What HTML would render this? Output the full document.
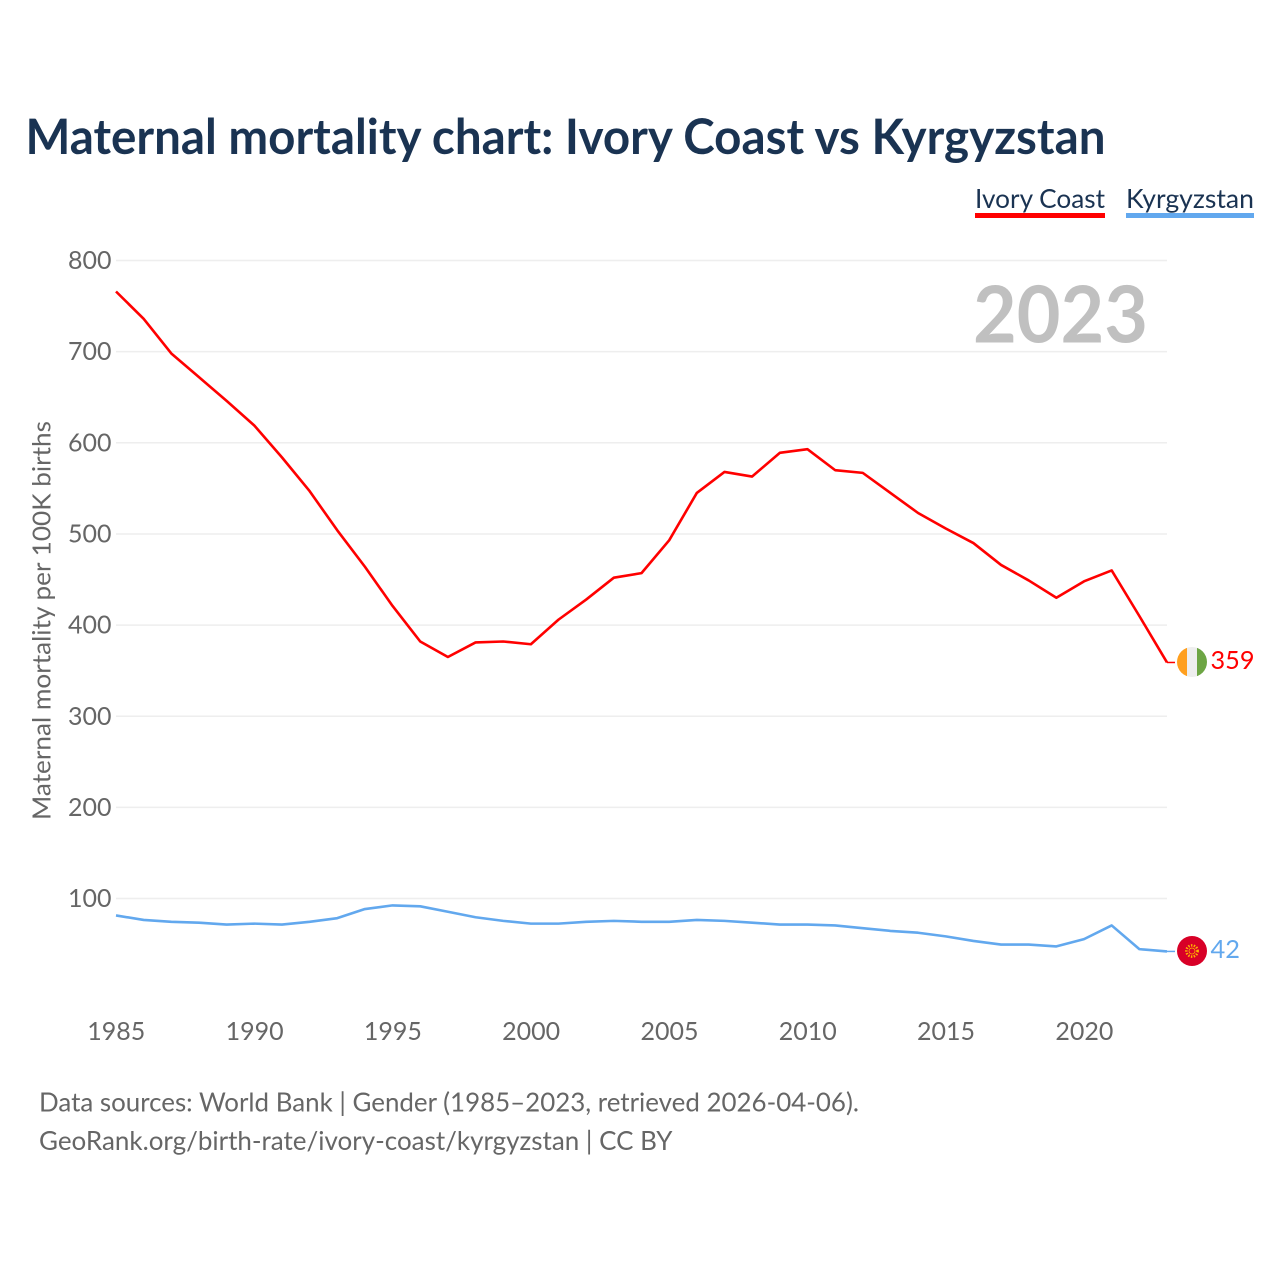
<!DOCTYPE html>
<html lang="en">
<head>
<meta charset="utf-8">
<title>Maternal mortality chart: Ivory Coast vs Kyrgyzstan</title>
<style>
html,body{margin:0;padding:0;background:#fff;width:1280px;height:1280px;overflow:hidden}
svg{display:block}
text{font-family:"Lato","Carlito","Liberation Sans",sans-serif}
</style>
</head>
<body>
<svg id="chart" xmlns="http://www.w3.org/2000/svg" width="1280" height="1280" viewBox="0 0 1280 1280">
  <defs>
    <clipPath id="flag-clip-ci"><circle cx="1192" cy="662" r="15"/></clipPath>
    <clipPath id="flag-clip-kg"><circle cx="1192" cy="951" r="15"/></clipPath>
  </defs>
  <rect x="0" y="0" width="1280" height="1280" fill="#fff"/>
  <text x="25.5" y="154" font-size="49" font-weight="700" fill="#1a3352" textLength="1080" lengthAdjust="spacingAndGlyphs">Maternal mortality chart: Ivory Coast vs Kyrgyzstan</text>

  <g>
    <text x="975" y="208" font-size="26" fill="#1a3352" textLength="130" lengthAdjust="spacingAndGlyphs">Ivory Coast</text>
    <rect x="975" y="213" width="130" height="5" fill="#ff0000"/>
    <text x="1126" y="208" font-size="26" fill="#1a3352" textLength="128" lengthAdjust="spacingAndGlyphs">Kyrgyzstan</text>
    <rect x="1126" y="213" width="128" height="5" fill="#62a8ee"/>
  </g>

  <g id="grid"></g>
  <text x="973" y="342.5" font-size="79" font-weight="700" fill="#c0c0c0" textLength="175" lengthAdjust="spacingAndGlyphs">2023</text>
  <g id="y-ticks"></g>
  <g id="x-ticks"></g>
  <text transform="translate(50.5 820) rotate(-90)" x="0" y="0" font-size="25" fill="#666" textLength="399" lengthAdjust="spacingAndGlyphs">Maternal mortality per 100K births</text>
  <g id="series"></g>

  <g clip-path="url(#flag-clip-ci)">
    <rect x="1177" y="647" width="10" height="30" fill="#ff9f1e"/>
    <rect x="1187" y="647" width="10" height="30" fill="#eeeeee"/>
    <rect x="1197" y="647" width="10" height="30" fill="#6da544"/>
  </g>
  <g clip-path="url(#flag-clip-kg)">
    <rect x="1177" y="936" width="30" height="30" fill="#d80027"/>
    <circle cx="1192" cy="951" r="5.6" fill="none" stroke="#ffb400" stroke-width="2.6" stroke-dasharray="1.4 1.4"/>
    <circle cx="1192" cy="951" r="3" fill="#d80027" stroke="#ffb400" stroke-width="0.8"/>
  </g>

  <text x="1210.5" y="669" font-size="25.5" fill="#ff0000" textLength="44" lengthAdjust="spacingAndGlyphs">359</text>
  <text x="1210.5" y="958" font-size="25.5" fill="#62a8ee" textLength="29.5" lengthAdjust="spacingAndGlyphs">42</text>

  <text x="39" y="1111.5" font-size="26" fill="#666" textLength="820" lengthAdjust="spacingAndGlyphs">Data sources: World Bank | Gender (1985–2023, retrieved 2026-04-06).</text>
  <text x="39" y="1150" font-size="26" fill="#666" textLength="633.5" lengthAdjust="spacingAndGlyphs">GeoRank.org/birth-rate/ivory-coast/kyrgyzstan | CC BY</text>
</svg>
<script>
const years = [1985,1986,1987,1988,1989,1990,1991,1992,1993,1994,1995,1996,1997,1998,1999,2000,2001,2002,2003,2004,2005,2006,2007,2008,2009,2010,2011,2012,2013,2014,2015,2016,2017,2018,2019,2020,2021,2022,2023];
const ivoryCoast = [766,736,698,672,646,619,584,547,504,464,421,382,365,381,382,379,406,428,452,457,493,545,568,563,589,593,570,567,545,523,506,490,466,449,430,448,460,410,359];
const kyrgyzstan = [81.5,76.5,74.5,73.5,71.5,72.5,71.5,74.5,78.5,88.5,92.5,91.5,85.5,79.5,75.5,72.5,72.5,74.5,75.5,74.5,74.5,76.5,75.5,73.5,71.5,71.5,70.5,67.5,64.5,62.5,58.5,53.5,49.5,49.5,47.5,55.5,70.5,44.5,42];
const yTickValues = [100,200,300,400,500,600,700,800];
const xTickValues = [1985,1990,1995,2000,2005,2010,2015,2020];

const NS = 'http://www.w3.org/2000/svg';
const xLeft = 116, xRight = 1167, yZero = 989.7, yScale = 0.9115;
function xAxis(year) {
  return xLeft + (year - years[0]) * (xRight - xLeft) / (years[years.length - 1] - years[0]);
}
function yAxis(value) {
  return yZero - value * yScale;
}
function make(tag, attrs) {
  const el = document.createElementNS(NS, tag);
  for (const k in attrs) el.setAttribute(k, attrs[k]);
  return el;
}

const grid = document.getElementById('grid');
const yTicks = document.getElementById('y-ticks');
yTickValues.forEach(function (v) {
  const line = make('line', {x1: xLeft, x2: xRight, y1: yAxis(v), y2: yAxis(v), stroke: '#eeeeee', 'stroke-width': 1.5});
  
  
  grid.appendChild(line);
  const label = make('text', {x: 111.5, y: yAxis(v) + 8.5, 'text-anchor': 'end', 'font-size': 25, fill: '#666'});
  
  
  label.textContent = v;
  yTicks.appendChild(label);
});

const xTicks = document.getElementById('x-ticks');
xTickValues.forEach(function (y) {
  const label = make('text', {x: xAxis(y) + 0.3, y: 1040, 'text-anchor': 'middle', 'font-size': 25, fill: '#666'});
  
  
  label.textContent = y;
  xTicks.appendChild(label);
});

const seriesGroup = document.getElementById('series');
function drawSeries(values, color, name) {
  const pts = values.map(function (v, i) { return xAxis(years[i]).toFixed(2) + ',' + yAxis(v).toFixed(2); }).join(' ');
  const line = make('polyline', {points: pts, fill: 'none', stroke: color, 'stroke-width': 2.6, 'stroke-linejoin': 'round'});
  
  
  seriesGroup.appendChild(line);
  const lastY = yAxis(values[values.length - 1]);
  const connector = make('line', {x1: xRight, x2: xRight + 8, y1: lastY, y2: lastY, stroke: color, 'stroke-width': 1.5});
  
  
  seriesGroup.appendChild(connector);
}
drawSeries(ivoryCoast, '#ff0000', 'ivory-coast');
drawSeries(kyrgyzstan, '#62a8ee', 'kyrgyzstan');
</script>
</body>
</html>
